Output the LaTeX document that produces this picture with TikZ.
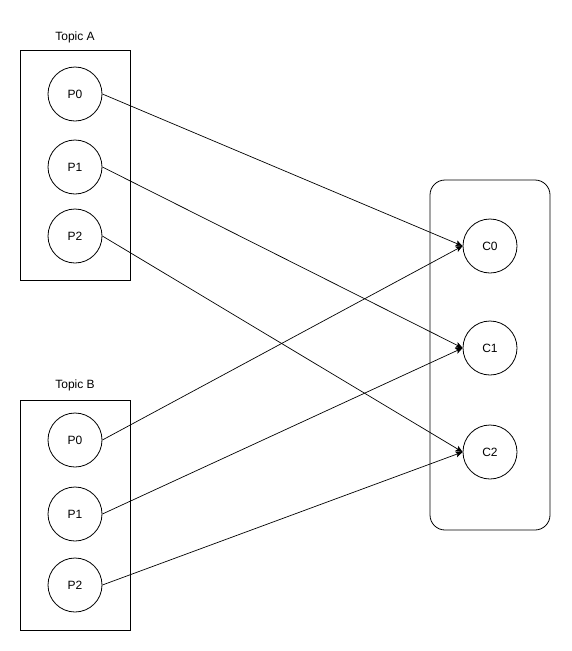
\documentclass[tikz,border=0pt]{standalone}
\usepackage{fontspec}
\setmainfont{Liberation Sans}
\usetikzlibrary{positioning,arrows.meta}
\tikzset{
  grp/.style={draw,line width=0.8pt},
  cgrp/.style={draw,line width=0.8pt,rounded corners=15pt},
  part/.style={circle,draw,line width=0.8pt,minimum size=54pt,inner sep=0pt,font=\fontsize{12}{14}\selectfont},
  ttl/.style={font=\fontsize{12}{14}\selectfont},
  link/.style={-{Stealth[length=7pt,width=6pt,inset=1.5pt]},line width=0.7pt},
}
\begin{document}
\begin{tikzpicture}[x=1pt,y=-1pt]
  \useasboundingbox (0,0) rectangle (571,651);
  % topic boxes and consumer group
  \draw[grp] (20,50) rectangle (130,280);
  \draw[grp] (20,400) rectangle (130,630);
  \draw[cgrp] (430,180) rectangle (550,530);
  \node[ttl] (ta) at (75,37) {Topic A};
  \node[ttl] (tb) at (75,385) {Topic B};
  % partitions
  \foreach \i/\y in {0/94,1/167,2/236}
    \node[part] (a\i) at (75,\y) {P\i};
  \foreach \i/\y in {0/440,1/514,2/585}
    \node[part] (b\i) at (75,\y) {P\i};
  % consumers
  \foreach \i/\y in {0/246,1/348,2/452}
    \node[part] (c\i) at (490,\y) {C\i};
  \foreach \i in {0,1,2}{
    \draw[link] (a\i.east) -- (c\i.west);
    \draw[link] (b\i.east) -- (c\i.west);
  }
\end{tikzpicture}
\end{document}
